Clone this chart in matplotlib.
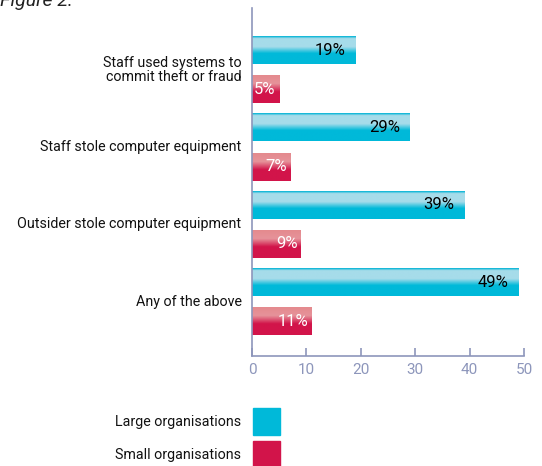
import matplotlib
matplotlib.use("Agg")
import matplotlib.pyplot as plt
import numpy as np
from matplotlib.colors import LinearSegmentedColormap
from matplotlib.patches import Rectangle

categories = ["Staff used systems to\ncommit theft or fraud",
              "Staff stole computer equipment",
              "Outsider stole computer equipment",
              "Any of the above"]
large = [19, 29, 39, 49]
small = [5, 7, 9, 11]
ticks = [0, 10, 20, 30, 40, 50]
legend_labels = ["Large organisations", "Small organisations"]

plt.rcParams["font.family"] = ["Roboto", "DejaVu Sans"]

CYAN = "#00b9d9"
RED = "#d2144a"
AXIS = "#8d96bb"

cyan_cmap = LinearSegmentedColormap.from_list(
    "cyan", [(0, "#00b4d6"), (0.08, "#a6dcea"), (0.38, "#a6dcea"),
             (0.62, CYAN), (1, CYAN)])
red_cmap = LinearSegmentedColormap.from_list(
    "red", [(0, "#e48a8e"), (0.3, "#e6939a"), (0.6, RED), (1, RED)])

fig = plt.figure(figsize=(5.42, 4.66), dpi=100)
ax = fig.add_axes([0.465, 0.237, 0.5018, 0.746])

grad = np.linspace(0, 1, 64).reshape(-1, 1)
y = np.arange(len(categories))
off = 0.253
h = 0.357


def gradient_bar(x, yc, cmap):
    # vertical gradient stretched over the bar's extent (y axis inverted)
    ax.imshow(grad, cmap=cmap, aspect="auto", interpolation="bilinear",
              extent=(0, x, yc + h / 2, yc - h / 2), zorder=2)


for yi, lv, sv in zip(y, large, small):
    gradient_bar(lv, yi - off, cyan_cmap)
    gradient_bar(sv, yi + off, red_cmap)
    ax.annotate(f"{lv}%", (lv, yi - off), xytext=(-7, 0),
                textcoords="offset points", ha="right", va="center",
                fontsize=12, color="black", zorder=3)
    ax.annotate(f"{sv}%", (sv, yi + off), xytext=(-2.5, 0),
                textcoords="offset points", ha="right", va="center",
                fontsize=12, color="white", zorder=3)
    ax.annotate(categories[yi], (0, yi), xytext=(-7.5, 0),
                textcoords="offset points", ha="right", va="center",
                fontsize=10.3, color="#111111", linespacing=1.05)

ax.set_xlim(0, 50)
ax.set_ylim(3.70, -0.805)
ax.set_xticks(ticks)
ax.set_yticks([])
for s in ("top", "right"):
    ax.spines[s].set_visible(False)
for s in ("left", "bottom"):
    ax.spines[s].set_color(AXIS)
    ax.spines[s].set_linewidth(1.2)
ax.tick_params(axis="x", direction="in", length=6, width=1.2, color=AXIS,
               labelcolor=AXIS, labelsize=11, pad=5)

fig.text(0.0, 1 - 6 / 466, "Figure 2.", style="italic", fontsize=14,
         color="#222222", va="baseline", ha="left")

# legend drawn by hand below the axis
for i, (lab, col) in enumerate(zip(legend_labels, [CYAN, RED])):
    top = 408 + i * 33
    fig.patches.append(Rectangle((253 / 542, 1 - (top + 27) / 466),
                                 27 / 542, 27 / 466, color=col,
                                 transform=fig.transFigure))
    fig.text(241 / 542, 1 - (top + 14) / 466, lab, ha="right", va="center",
             fontsize=10.3, color="#111111")

fig.savefig("out.png", dpi=100)
